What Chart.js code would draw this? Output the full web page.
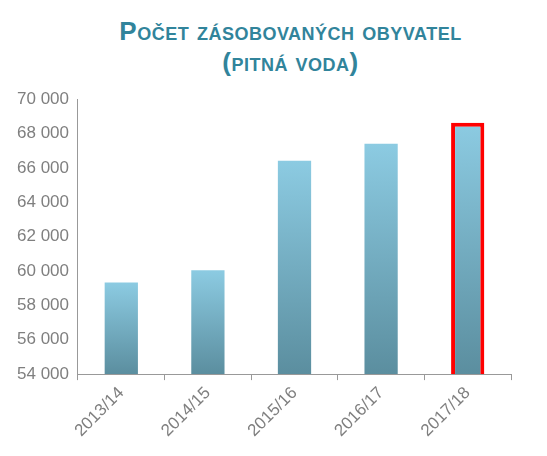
<!DOCTYPE html>
<html><head><meta charset="utf-8">
<script src="https://cdn.jsdelivr.net/npm/chart.js@4"></script>
<style>
body{margin:0;background:#fff;width:547px;height:456px;overflow:hidden}
#t{font-family:"Liberation Sans",Arial,sans-serif;font-weight:bold;color:#31849B;text-align:center;font-variant:small-caps;font-size:26px;line-height:31px;padding-top:16px;padding-left:34px;letter-spacing:0.5px}
#w{position:absolute;left:0;top:86px;width:547px;height:370px}
</style></head><body>
<div id="t">Počet zásobovaných obyvatel<br>(pitná voda)</div>
<div id="w"><canvas id="c"></canvas></div>
<script>
const categories=["2013/14","2014/15","2015/16","2016/17","2017/18"];
const values=[59330,60050,66420,67400,68630];
const ctx=document.getElementById('c');
function grad(c){const chart=c.chart;const a=chart.chartArea;if(!a||c.dataIndex===undefined)return '#7fb8cc';
 const top=chart.scales.y.getPixelForValue(values[c.dataIndex]);
 const g=chart.ctx.createLinearGradient(0,top,0,a.bottom);g.addColorStop(0,'#8ccbe2');g.addColorStop(1,'#5b8e9f');return g;}
new Chart(ctx,{type:'bar',data:{labels:categories,datasets:[{data:values,backgroundColor:grad,
 borderColor:['transparent','transparent','transparent','transparent','#ff0000'],borderWidth:[0,0,0,0,4],borderSkipped:false,
 categoryPercentage:0.8,barPercentage:0.48}]},
options:{responsive:true,maintainAspectRatio:false,animation:false,
 layout:{padding:{left:14,right:36,top:4,bottom:12}},
 plugins:{legend:{display:false},tooltip:{enabled:false}},
 scales:{y:{min:54000,max:70000,ticks:{stepSize:2000,color:'#7f7f7f',font:{size:17,family:'Liberation Sans'},
   callback:v=>v.toLocaleString('cs-CZ').replace(/\s/g,' ')},
   grid:{display:false,drawTicks:true,tickLength:6,color:'#999'},border:{color:'#999'}},
  x:{ticks:{color:'#7f7f7f',font:{size:17,family:'Liberation Sans'},maxRotation:45,minRotation:45},
   grid:{display:true,drawOnChartArea:false,tickLength:6,color:'#999',offset:true},border:{color:'#999'}}}}});
</script></body></html>
